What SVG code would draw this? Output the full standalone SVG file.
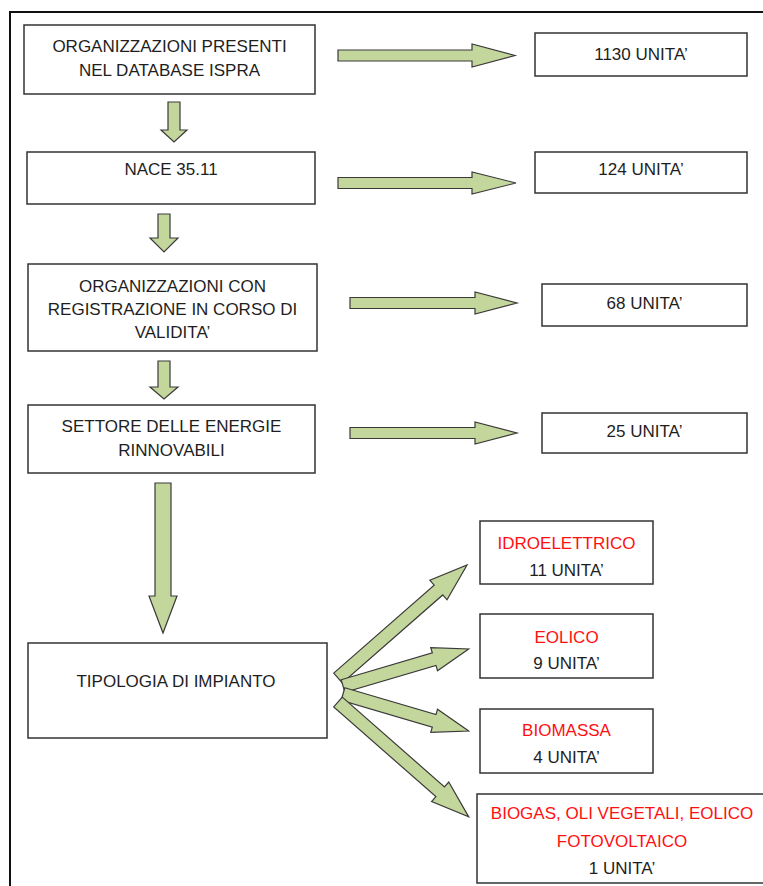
<svg xmlns="http://www.w3.org/2000/svg" width="763" height="886" viewBox="0 0 763 886">
<style>
.box{fill:#fff;stroke:#333;stroke-width:1.5}
.t{font-family:"Liberation Sans",Arial,sans-serif;font-size:17px;fill:#1e1e1e;text-anchor:middle}
.r{fill:#ff1010}
.arr{fill:#c3d69b;stroke:#3a3a3a;stroke-width:1.2;stroke-linejoin:miter}
</style>
<rect x="0" y="0" width="763" height="886" fill="#fff"/>
<path d="M10,886 V12 H763" fill="none" stroke="#111" stroke-width="2"/>

<g id="connectors">
<path class="arr" d="M168,102 H180 V130 H187 L174,142 L161,130 H168 Z"/>
<path class="arr" d="M158,214 H170 V238 H178 L164,252 L150,238 H158 Z"/>
<path class="arr" d="M158,361 H170 V387 H178 L164,399 L150,387 H158 Z"/>
<path class="arr" d="M155,483 H171 V596 H177 L163,633 L149,596 H155 Z"/>
<path class="arr" d="M338,50 H472 V44 L515,55.5 L472,67 V61 H338 Z"/>
<path class="arr" d="M338,177.5 H472 V172 L516,183 L472,194 V188.5 H338 Z"/>
<path class="arr" d="M350,297.5 H475 V292 L517,303 L475,314 V308.5 H350 Z"/>
<path class="arr" d="M350,427.5 H475 V422 L517,433 L475,444 V438.5 H350 Z"/>
<path class="arr" transform="translate(338,678) rotate(-41.2)" d="M0,-6.5 H133.5 V-13 L171.5,0 L133.5,13 V6.5 H0 Z"/>
<path class="arr" transform="translate(343,686) rotate(-16.4)" d="M0,-6.5 H95 V-12 L131,0 L95,12 V6.5 H0 Z"/>
<path class="arr" transform="translate(343,694) rotate(16.4)" d="M0,-6.5 H95 V-12 L131,0 L95,12 V6.5 H0 Z"/>
<path class="arr" transform="translate(338,702) rotate(41.3)" d="M0,-6.5 H136 V-13 L174,0 L136,13 V6.5 H0 Z"/>
</g>

<g id="n1"><rect class="box" x="24" y="25" width="291" height="69"/>
<text class="t" x="169.5" y="52">ORGANIZZAZIONI PRESENTI</text>
<text class="t" x="169.5" y="76">NEL DATABASE ISPRA</text></g>

<g id="n2"><rect class="box" x="27" y="152" width="288" height="52"/>
<text class="t" x="171" y="175">NACE 35.11</text></g>

<g id="n3"><rect class="box" x="28" y="264" width="289" height="87"/>
<text class="t" x="172.5" y="292">ORGANIZZAZIONI CON</text>
<text class="t" x="172.5" y="315">REGISTRAZIONE IN CORSO DI</text>
<text class="t" x="172.5" y="338">VALIDITA’</text></g>

<g id="n4"><rect class="box" x="28" y="405" width="287" height="68"/>
<text class="t" x="171.5" y="432">SETTORE DELLE ENERGIE</text>
<text class="t" x="171.5" y="456">RINNOVABILI</text></g>

<g id="n5"><rect class="box" x="28" y="643" width="299" height="95"/>
<text class="t" x="176" y="687">TIPOLOGIA DI IMPIANTO</text></g>

<g id="r1"><rect class="box" x="535" y="33" width="212" height="43"/>
<text class="t" x="641" y="60">1130 UNITA’</text></g>

<g id="r2"><rect class="box" x="535" y="152" width="212" height="41"/>
<text class="t" x="641" y="175">124 UNITA’</text></g>

<g id="r3"><rect class="box" x="542" y="284" width="205" height="42"/>
<text class="t" x="644.5" y="309">68 UNITA’</text></g>

<g id="r4"><rect class="box" x="542" y="413" width="205" height="40"/>
<text class="t" x="644.5" y="437">25 UNITA’</text></g>

<g id="idro"><rect class="box" x="480" y="521" width="173" height="63"/>
<text class="t r" x="566.5" y="549">IDROELETTRICO</text>
<text class="t" x="566.5" y="576">11 UNITA’</text></g>

<g id="eolico"><rect class="box" x="480" y="614" width="173" height="64"/>
<text class="t r" x="566.5" y="643">EOLICO</text>
<text class="t" x="566.5" y="669">9 UNITA’</text></g>

<g id="biomassa"><rect class="box" x="480" y="709" width="173" height="64"/>
<text class="t r" x="566.5" y="736">BIOMASSA</text>
<text class="t" x="566.5" y="763">4 UNITA’</text></g>

<g id="biogas"><rect class="box" x="477" y="794" width="300" height="89"/>
<text class="t r" x="622" y="819">BIOGAS, OLI VEGETALI, EOLICO</text>
<text class="t r" x="622" y="847">FOTOVOLTAICO</text>
<text class="t" x="622" y="874">1 UNITA’</text></g>
</svg>
